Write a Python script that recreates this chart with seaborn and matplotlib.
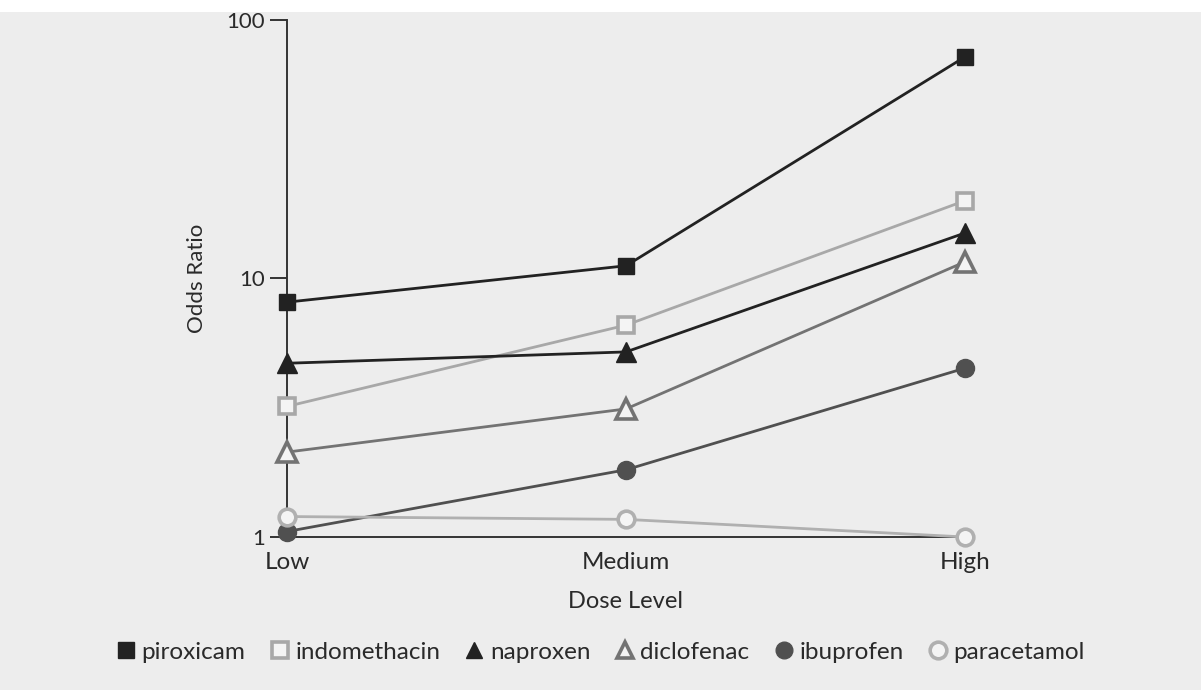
import matplotlib
matplotlib.use("Agg")
import matplotlib.pyplot as plt
import matplotlib.patches as mpatches
from matplotlib.lines import Line2D
import seaborn as sns
import pandas as pd

doses = ["Low", "Medium", "High"]
drugs = ["piroxicam", "indomethacin", "naproxen", "diclofenac", "ibuprofen", "paracetamol"]
piroxicam = [8.1, 11.2, 72.0]
indomethacin = [3.2, 6.6, 20.0]
naproxen = [4.7, 5.2, 15.0]
diclofenac = [2.13, 3.13, 11.6]
ibuprofen = [1.05, 1.82, 4.5]
paracetamol = [1.2, 1.17, 1.0]
values = [piroxicam, indomethacin, naproxen, diclofenac, ibuprofen, paracetamol]

colors = ["#222222", "#a8a8a8", "#222222", "#737373", "#505050", "#b0b0b0"]
markers = ["s", "s", "^", "^", "o", "o"]
filled = [True, False, True, False, True, False]
msizes = [12, 11, 14, 14, 13, 12]

BG = "#ededed"
TXT = "#2a2a2a"
sns.set_theme(style="ticks")
plt.rcParams["font.family"] = ["Lato", "DejaVu Sans"]

fig = plt.figure(figsize=(12.01, 6.9), dpi=100, facecolor=BG)
fig.patches.append(mpatches.Rectangle((0, 1 - 12 / 690), 1, 12 / 690, transform=fig.transFigure,
                                      facecolor="white", edgecolor="none", zorder=-1))
ax = fig.add_axes([287 / 1201, 1 - 537 / 690, (965 - 287) / 1201, (537 - 20) / 690])
ax.set_facecolor(BG)

df = pd.DataFrame({
    "Dose Level": doses * len(drugs),
    "Odds Ratio": [v for vals in values for v in vals],
    "drug": [d for d in drugs for _ in doses],
})

for i, d in enumerate(drugs):
    sub = df[df["drug"] == d]
    sns.lineplot(data=sub, x="Dose Level", y="Odds Ratio", ax=ax, color=colors[i],
                 linewidth=2.0, marker=markers[i], markersize=msizes[i],
                 markerfacecolor=colors[i] if filled[i] else "#f4f4f4",
                 markeredgecolor=colors[i], markeredgewidth=2.6 if not filled[i] else 1,
                 clip_on=False, zorder=3 + i, legend=False, errorbar=None, sort=False)

ax.set_yscale("log")
ax.set_ylim(1, 100)
ax.set_xlim(0, 2)
ax.set_yticks([1, 10, 100])
ax.set_yticklabels(["1", "10", "100"])
ax.yaxis.set_minor_locator(matplotlib.ticker.NullLocator())
for s in ["top", "right"]:
    ax.spines[s].set_visible(False)
for s in ["left", "bottom"]:
    ax.spines[s].set_color("#333333")
    ax.spines[s].set_linewidth(1.4)
ax.tick_params(axis="y", length=12, width=1.4, color="#333333", labelsize=16, pad=4, labelcolor=TXT)
ax.tick_params(axis="x", length=0, labelsize=17.5, pad=11, labelcolor=TXT)
ax.set_xlabel("Dose Level", fontsize=17, color=TXT, labelpad=13)
ax.set_ylabel("Odds Ratio", fontsize=16, color=TXT, labelpad=14)

handles = []
for i, d in enumerate(drugs):
    handles.append(Line2D([], [], linestyle="none", marker=markers[i], markersize=12,
                          markerfacecolor=colors[i] if filled[i] else "#f4f4f4",
                          markeredgecolor=colors[i], markeredgewidth=2.6 if not filled[i] else 1,
                          label=d))
fig.legend(handles=handles, loc="center", bbox_to_anchor=(0.5, 1 - 652 / 690), ncol=6,
           frameon=False, fontsize=17.5, handlelength=0.8, handletextpad=0.25, columnspacing=1.0,
           labelcolor=TXT)

fig.savefig("out.png", dpi=100, facecolor=BG)
